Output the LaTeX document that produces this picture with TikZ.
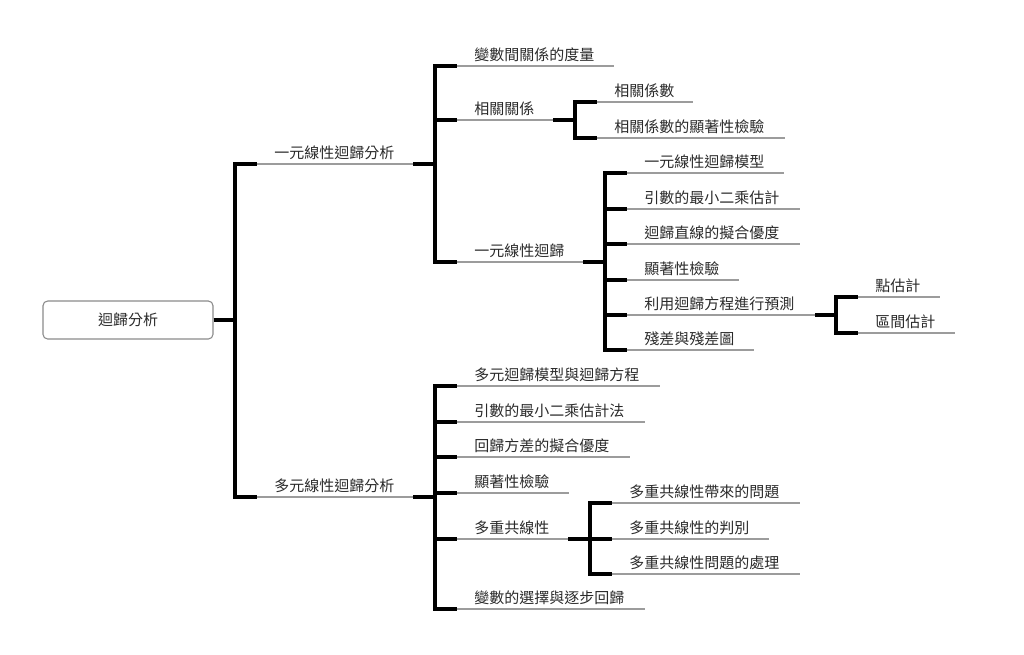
\documentclass[tikz,border=0pt]{standalone}
\usepackage{fontspec}
\setmainfont{Noto Sans CJK TC}
\usetikzlibrary{calc}
\definecolor{txt}{HTML}{2A2A2A}
\definecolor{ul}{HTML}{9C9C9C}
\definecolor{boxc}{HTML}{8A8A8A}
\tikzset{
  lbl/.style={inner sep=0pt, text=txt, font=\fontsize{11.25pt}{13pt}\selectfont, text height=0.88em, text depth=0.12em, anchor=west},
  uline/.style={draw=ul, line width=0.8pt},
  conn/.style={draw=black, line width=2.3pt},
  rootbox/.style={draw=boxc, line width=0.8pt, rounded corners=3.5pt, minimum width=127.5pt, minimum height=28.5pt, inner sep=0pt, text=txt, font=\fontsize{11.25pt}{13pt}\selectfont},
}
\newcommand\mmleaf[5]{%
  \coordinate (#1-l) at (#2,#4);
  \coordinate (#1-r) at (#3,#4);
  \draw[uline] (#1-l) -- (#1-r);
  \node[lbl] (#1) at ($(#1-l)+(17,-11)$) {#5};
}
\newcommand\mmlink[2]{\draw[conn] (#1-r) -| ([xshift=-16.5pt]#2-l) -- (#2-l);}
\begin{document}
\begin{tikzpicture}[x=0.75pt,y=-0.75pt]
\useasboundingbox (0,0) rectangle (1024,654);
\node[rootbox] (root) at (128,320) {迴歸分析};
\coordinate (root-r) at (root.east);
% level 1
\mmleaf{A}{257}{413}{164}{一元線性迴歸分析}
\mmleaf{B}{257}{413}{497}{多元線性迴歸分析}
% level 2 under A
\mmleaf{A1}{457}{614}{66}{變數間關係的度量}
\mmleaf{A2}{457}{553}{120}{相關關係}
\mmleaf{A21}{597}{693}{102}{相關係數}
\mmleaf{A22}{597}{785}{138}{相關係數的顯著性檢驗}
\mmleaf{A3}{457}{583}{262}{一元線性迴歸}
\mmleaf{A31}{627}{784}{173}{一元線性迴歸模型}
\mmleaf{A32}{627}{800}{209}{引數的最小二乘估計}
\mmleaf{A33}{627}{800}{244}{迴歸直線的擬合優度}
\mmleaf{A34}{627}{739}{280}{顯著性檢驗}
\mmleaf{A35}{627}{815}{315}{利用迴歸方程進行預測}
\mmleaf{A351}{858}{940}{297}{點估計}
\mmleaf{A352}{858}{955}{333}{區間估計}
\mmleaf{A36}{627}{754}{350}{殘差與殘差圖}
% level 2 under B
\mmleaf{B1}{457}{660}{386}{多元迴歸模型與迴歸方程}
\mmleaf{B2}{457}{645}{422}{引數的最小二乘估計法}
\mmleaf{B3}{457}{630}{457}{回歸方差的擬合優度}
\mmleaf{B4}{457}{569}{493}{顯著性檢驗}
\mmleaf{B5}{457}{568}{539}{多重共線性}
\mmleaf{B51}{612}{800}{503}{多重共線性帶來的問題}
\mmleaf{B52}{612}{769}{539}{多重共線性的判別}
\mmleaf{B53}{612}{800}{574}{多重共線性問題的處理}
\mmleaf{B6}{457}{645}{609}{變數的選擇與逐步回歸}
% connectors
\mmlink{root}{A}
\mmlink{root}{B}
\mmlink{A}{A1}
\mmlink{A}{A2}
\mmlink{A}{A3}
\mmlink{A2}{A21}
\mmlink{A2}{A22}
\mmlink{A3}{A31}
\mmlink{A3}{A32}
\mmlink{A3}{A33}
\mmlink{A3}{A34}
\mmlink{A3}{A35}
\mmlink{A3}{A36}
\mmlink{A35}{A351}
\mmlink{A35}{A352}
\mmlink{B}{B1}
\mmlink{B}{B2}
\mmlink{B}{B3}
\mmlink{B}{B4}
\mmlink{B}{B5}
\mmlink{B}{B6}
\mmlink{B5}{B51}
\mmlink{B5}{B52}
\mmlink{B5}{B53}
\end{tikzpicture}
\end{document}
